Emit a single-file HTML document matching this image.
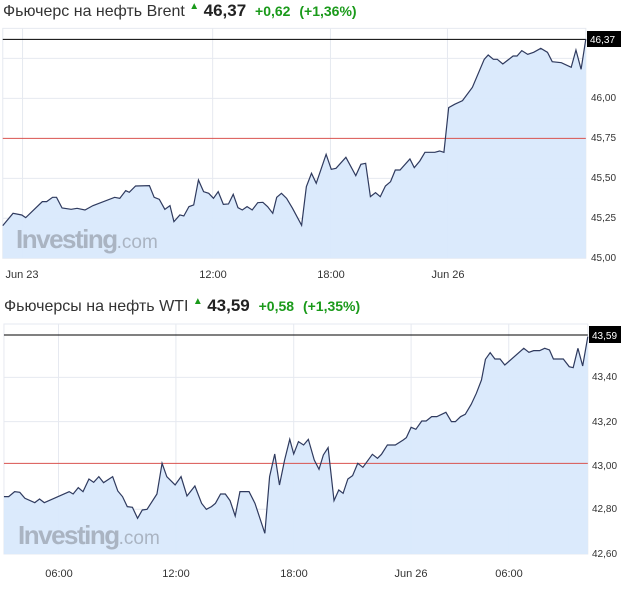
<!DOCTYPE html>
<html><head><meta charset="utf-8"><style>
body{margin:0;background:#fff;width:621px;height:592px;overflow:hidden;font-family:"Liberation Sans",sans-serif}
.t{position:absolute;font-size:16px;color:#333;white-space:nowrap}
.t b{color:#222;font-size:17px}
.g{color:#1a9a1a;font-weight:bold;font-size:14px}
</style></head><body>
<div class="t" style="left:3px;top:1px">Фьючерс на нефть Brent <span style="color:#1a9a1a;font-size:10px;vertical-align:top">▲</span> <b>46,37</b>&nbsp; <span class="g">+0,62</span>&nbsp; <span class="g">(+1,36%)</span></div>
<div class="t" style="left:4px;top:296px">Фьючерсы на нефть WTI <span style="color:#1a9a1a;font-size:10px;vertical-align:top">▲</span> <b>43,59</b>&nbsp; <span class="g">+0,58</span>&nbsp; <span class="g">(+1,35%)</span></div>
<svg width="621" height="592" style="position:absolute;left:0;top:0" font-family="Liberation Sans, sans-serif">
<g transform="scale(0.3953,0.3333)">
<rect x="7" y="85" width="1475" height="690" fill="#fff" stroke="#e6e9f0" vector-effect="non-scaling-stroke"/>
<g stroke="#e6e9f0" vector-effect="non-scaling-stroke">
<line x1="57" y1="85" x2="57" y2="775" vector-effect="non-scaling-stroke"/><line x1="538" y1="85" x2="538" y2="775" vector-effect="non-scaling-stroke"/><line x1="836" y1="85" x2="836" y2="775" vector-effect="non-scaling-stroke"/><line x1="1132" y1="85" x2="1132" y2="775" vector-effect="non-scaling-stroke"/>
<line x1="7" y1="175" x2="1482" y2="175" vector-effect="non-scaling-stroke"/><line x1="7" y1="295" x2="1482" y2="295" vector-effect="non-scaling-stroke"/><line x1="7" y1="535" x2="1482" y2="535" vector-effect="non-scaling-stroke"/><line x1="7" y1="655" x2="1482" y2="655" vector-effect="non-scaling-stroke"/>
</g>
<polygon fill="#d9e9fc" fill-opacity="0.95" points="7,775 7,677 33,640 55,645 65,653 107,605 118,605 133,592 143,592 157,624 180,628 195,625 215,630 235,617 290,592 303,595 318,572 327,577 343,558 378,557 390,592 403,598 417,628 430,617 440,665 455,645 465,648 478,620 490,615 502,540 515,575 528,580 540,595 552,575 565,613 578,612 590,583 602,623 613,630 625,620 638,630 652,608 665,607 677,620 690,640 700,592 712,580 725,595 740,625 763,676 775,560 788,520 800,550 825,463 838,508 850,505 875,472 900,527 913,493 925,490 937,590 950,578 962,590 975,558 988,545 1000,510 1012,510 1037,477 1048,503 1062,483 1075,457 1100,457 1112,453 1123,457 1135,323 1150,313 1170,302 1195,262 1225,178 1235,165 1248,178 1258,178 1272,192 1298,168 1308,168 1320,152 1335,163 1350,157 1368,145 1385,157 1397,185 1420,188 1445,202 1457,150 1470,208 1482,117 1482,775"/>
<line x1="7" y1="415" x2="1482" y2="415" stroke="#d9534f" vector-effect="non-scaling-stroke"/>
<line x1="7" y1="118" x2="1482" y2="118" stroke="#000" vector-effect="non-scaling-stroke"/>
<polyline fill="none" stroke="#2f3a5e" stroke-width="1.2" vector-effect="non-scaling-stroke" points="7,677 33,640 55,645 65,653 107,605 118,605 133,592 143,592 157,624 180,628 195,625 215,630 235,617 290,592 303,595 318,572 327,577 343,558 378,557 390,592 403,598 417,628 430,617 440,665 455,645 465,648 478,620 490,615 502,540 515,575 528,580 540,595 552,575 565,613 578,612 590,583 602,623 613,630 625,620 638,630 652,608 665,607 677,620 690,640 700,592 712,580 725,595 740,625 763,676 775,560 788,520 800,550 825,463 838,508 850,505 875,472 900,527 913,493 925,490 937,590 950,578 962,590 975,558 988,545 1000,510 1012,510 1037,477 1048,503 1062,483 1075,457 1100,457 1112,453 1123,457 1135,323 1150,313 1170,302 1195,262 1225,178 1235,165 1248,178 1258,178 1272,192 1298,168 1308,168 1320,152 1335,163 1350,157 1368,145 1385,157 1397,185 1420,188 1445,202 1457,150 1470,208 1482,117"/>
</g>
<g transform="translate(0,290) scale(0.3953,0.3333)">
<rect x="10" y="102" width="1477" height="690" fill="#fff" stroke="#e6e9f0" vector-effect="non-scaling-stroke"/>
<g stroke="#e6e9f0">
<line x1="148" y1="102" x2="148" y2="792" vector-effect="non-scaling-stroke"/><line x1="445" y1="102" x2="445" y2="792" vector-effect="non-scaling-stroke"/><line x1="743" y1="102" x2="743" y2="792" vector-effect="non-scaling-stroke"/><line x1="1040" y1="102" x2="1040" y2="792" vector-effect="non-scaling-stroke"/><line x1="1287" y1="102" x2="1287" y2="792" vector-effect="non-scaling-stroke"/>
<line x1="10" y1="262" x2="1487" y2="262" vector-effect="non-scaling-stroke"/><line x1="10" y1="395" x2="1487" y2="395" vector-effect="non-scaling-stroke"/><line x1="10" y1="658" x2="1487" y2="658" vector-effect="non-scaling-stroke"/>
</g>
<polygon fill="#d9e9fc" fill-opacity="0.95" points="10,792 10,620 22,620 37,605 50,607 63,625 88,638 100,627 112,638 175,605 185,612 198,593 210,605 225,567 237,577 250,560 262,578 285,560 298,603 310,620 322,650 335,652 348,685 360,660 372,658 397,612 410,520 422,560 443,585 458,560 473,618 493,588 510,640 522,658 535,650 545,640 558,612 570,612 582,632 595,678 607,605 630,605 645,640 670,730 682,560 695,492 707,585 720,510 733,448 743,492 755,455 768,465 780,448 795,510 807,538 818,495 830,473 845,632 857,600 868,610 880,567 892,557 905,520 918,532 942,493 955,505 965,493 980,465 1000,465 1020,450 1028,443 1040,412 1052,418 1067,393 1078,393 1092,380 1105,380 1128,367 1142,395 1152,395 1165,380 1177,373 1192,343 1205,310 1218,270 1228,208 1240,188 1252,207 1265,207 1277,225 1325,175 1338,187 1350,182 1365,182 1378,175 1390,180 1400,207 1425,207 1440,230 1450,233 1462,175 1474,228 1487,140 1487,792"/>
<line x1="10" y1="520" x2="1487" y2="520" stroke="#d9534f" vector-effect="non-scaling-stroke"/>
<line x1="10" y1="135" x2="1487" y2="135" stroke="#000" vector-effect="non-scaling-stroke"/>
<polyline fill="none" stroke="#2f3a5e" stroke-width="1.2" vector-effect="non-scaling-stroke" points="10,620 22,620 37,605 50,607 63,625 88,638 100,627 112,638 175,605 185,612 198,593 210,605 225,567 237,577 250,560 262,578 285,560 298,603 310,620 322,650 335,652 348,685 360,660 372,658 397,612 410,520 422,560 443,585 458,560 473,618 493,588 510,640 522,658 535,650 545,640 558,612 570,612 582,632 595,678 607,605 630,605 645,640 670,730 682,560 695,492 707,585 720,510 733,448 743,492 755,455 768,465 780,448 795,510 807,538 818,495 830,473 845,632 857,600 868,610 880,567 892,557 905,520 918,532 942,493 955,505 965,493 980,465 1000,465 1020,450 1028,443 1040,412 1052,418 1067,393 1078,393 1092,380 1105,380 1128,367 1142,395 1152,395 1165,380 1177,373 1192,343 1205,310 1218,270 1228,208 1240,188 1252,207 1265,207 1277,225 1325,175 1338,187 1350,182 1365,182 1378,175 1390,180 1400,207 1425,207 1440,230 1450,233 1462,175 1474,228 1487,140"/>
</g>
<g fill="#aab4c2" font-weight="bold" font-size="26" letter-spacing="-1.5">
<text x="16" y="248">Investing<tspan font-weight="normal" font-size="19" letter-spacing="0">.com</tspan></text>
<text x="18" y="544">Investing<tspan font-weight="normal" font-size="19" letter-spacing="0">.com</tspan></text>
</g>
<g font-size="10" fill="#333">
<rect x="587" y="31" width="34" height="16" fill="#000"/><text x="590" y="43" fill="#fff">46,37</text>
<text x="591" y="101">46,00</text><text x="591" y="141">45,75</text><text x="591" y="181">45,50</text><text x="591" y="221">45,25</text><text x="591" y="261">45,00</text>
<rect x="589" y="326" width="32" height="17" fill="#000"/><text x="592" y="339" fill="#fff">43,59</text>
<text x="592" y="380">43,40</text><text x="592" y="425">43,20</text><text x="592" y="469">43,00</text><text x="592" y="512">42,80</text><text x="592" y="557">42,60</text>
</g>
<g font-size="11" fill="#333" text-anchor="middle">
<text x="22" y="278">Jun 23</text><text x="213" y="278">12:00</text><text x="331" y="278">18:00</text><text x="448" y="278">Jun 26</text>
<text x="59" y="577">06:00</text><text x="176" y="577">12:00</text><text x="294" y="577">18:00</text><text x="411" y="577">Jun 26</text><text x="509" y="577">06:00</text>
</g>
</svg>
</body></html>
